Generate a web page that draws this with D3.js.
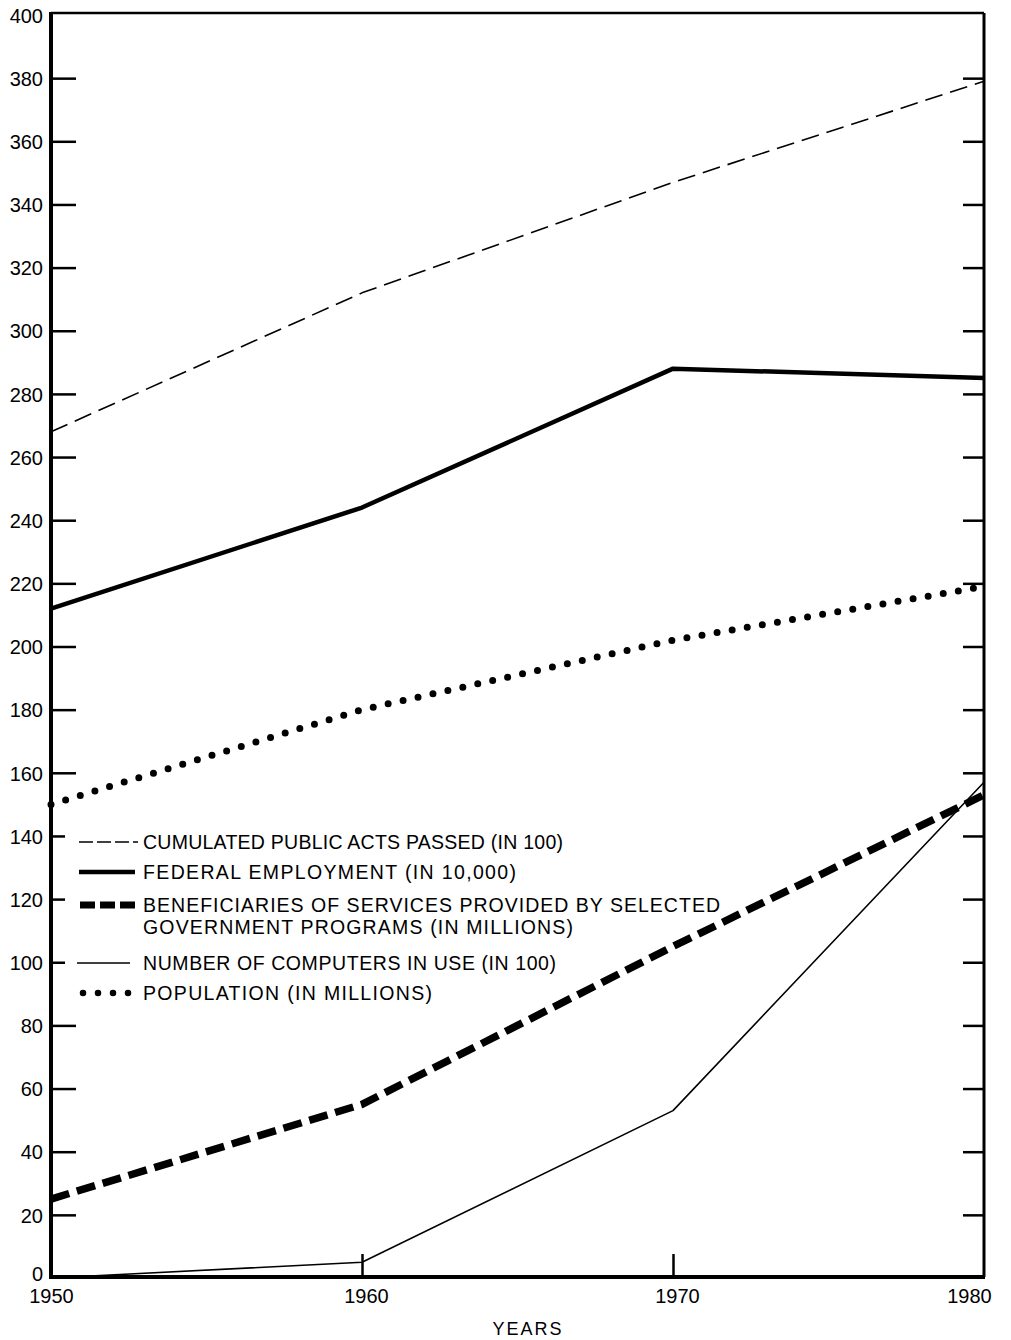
<!DOCTYPE html>
<html><head><meta charset="utf-8">
<script src="https://cdn.jsdelivr.net/npm/d3@7"></script>
<style>body{margin:0;background:#fff;} svg{display:block;}</style>
</head><body>
<svg id="c" width="1011" height="1340"></svg>
<script>
const years = [1950, 1960, 1970, 1980];
const publicActs = [268, 312, 347, 379];
const federalEmployment = [212, 244, 288, 285];
const population = [150, 180, 202, 219];
const beneficiaries = [25, 55, 105, 153];
const computers = [0, 5, 53, 157];
const yTicks = d3.range(0, 401, 20);
const xTicks = [1950, 1960, 1970, 1980];
const legendLabels = [
  ["CUMULATED PUBLIC ACTS PASSED (IN 100)"],
  ["FEDERAL EMPLOYMENT (IN 10,000)"],
  ["BENEFICIARIES OF SERVICES PROVIDED BY SELECTED", "GOVERNMENT PROGRAMS (IN MILLIONS)"],
  ["NUMBER OF COMPUTERS IN USE (IN 100)"],
  ["POPULATION (IN MILLIONS)"]
];

const L = 51, R = 984, T = 13, B = 1277;
const svg = d3.select("#c");
const x = d3.scaleLinear().domain([1950, 1980]).range([L, R]);
const y = d3.scaleLinear().domain([0, 400]).range([1278, 15]);
const font = "'Liberation Sans', Arial, sans-serif";

const styles = [
  {w: 1.6, dash: "18 8", cap: "butt"},
  {w: 4.5, dash: null, cap: "butt"},
  {w: 7.5, dash: "19 8", cap: "butt"},
  {w: 1.6, dash: null, cap: "butt"},
  {w: 7, dash: "0 15.3", cap: "round"}
];
const seriesVals = [publicActs, federalEmployment, beneficiaries, computers, population];

// frame
svg.append("line").attr("x1", L).attr("x2", R).attr("y1", T).attr("y2", T).attr("stroke", "#000").attr("stroke-width", 2.5);
svg.append("line").attr("x1", R).attr("x2", R).attr("y1", T).attr("y2", B).attr("stroke", "#000").attr("stroke-width", 3);

// left axis ticks (shorter where the legend sits)
const shortTicks = [100, 120, 140];
const yl = svg.append("g").attr("transform", `translate(${L},0)`)
  .call(d3.axisRight(y).tickValues(yTicks.filter(d => d > 0 && d < 400)).tickSize(25).tickFormat(""));
yl.select(".domain").remove();
yl.selectAll(".tick line").attr("stroke-width", 2.5).attr("x2", d => shortTicks.includes(d) ? 14 : 25);
const ylab = svg.append("g").attr("transform", `translate(43,0)`)
  .call(d3.axisLeft(y).tickValues(yTicks).tickSize(0).tickPadding(0));
ylab.select(".domain").remove();
ylab.selectAll("text").attr("font-size", 20).attr("font-family", font).attr("fill", "#000").attr("dy", "0.36em")
  .attr("y", d => d === 0 ? -5 : 0);
// right axis ticks
const yr = svg.append("g").attr("transform", `translate(${R},0)`)
  .call(d3.axisLeft(y).tickValues(yTicks.filter(d => d > 0 && d < 400)).tickSize(21).tickFormat(""));
yr.select(".domain").remove();
yr.selectAll(".tick line").attr("stroke-width", 2.5);

// bottom axis
const xa = svg.append("g").attr("transform", `translate(0,${B})`)
  .call(d3.axisTop(x).tickValues([1960, 1970]).tickSize(23).tickFormat(""));
xa.select(".domain").remove();
xa.selectAll(".tick line").attr("stroke-width", 2.5);
const xl = svg.append("g").attr("transform", `translate(0,${B})`)
  .call(d3.axisBottom(x).tickValues(xTicks).tickSize(0).tickPadding(12).tickFormat(d3.format("d")));
xl.select(".domain").remove();
xl.selectAll("text").attr("font-size", 20).attr("font-family", font).attr("fill", "#000")
  .attr("text-anchor", "middle")
  .attr("dx", (d) => d === 1950 ? 0 : d === 1980 ? -15 : 4);

svg.append("text").attr("x", 528).attr("y", 1335).attr("text-anchor", "middle")
  .attr("font-family", font).attr("font-size", 18).attr("letter-spacing", 2).text("YEARS");

// series
const line = d3.line().x((d, i) => x(years[i])).y(d => y(d));
seriesVals.forEach((vals, i) => {
  const s = styles[i];
  const p = svg.append("path").datum(vals).attr("d", line).attr("fill", "none")
    .attr("stroke", "#000").attr("stroke-width", s.w).attr("stroke-linecap", s.cap).attr("stroke-linejoin", "round");
  if (s.dash) p.attr("stroke-dasharray", s.dash);
});

// axes lines on top
svg.append("line").attr("x1", L).attr("x2", L).attr("y1", T - 1).attr("y2", B + 2).attr("stroke", "#000").attr("stroke-width", 4);
svg.append("line").attr("x1", L - 2).attr("x2", R + 1).attr("y1", B).attr("y2", B).attr("stroke", "#000").attr("stroke-width", 4);

// legend
const legRows = [842, 872, 905, 963, 993];
const legLen = [[420], [373], [577, 430], [413], [289]];
const legStyles = [
  {x1: 79, x2: 138, w: 1.6, dash: "14 4"},
  {x1: 79, x2: 135, w: 4.5, dash: null},
  {x1: 80, x2: 135, w: 7, dash: "15 5"},
  {x1: 77, x2: 130, w: 1.6, dash: null},
  {x1: 83, x2: 129, w: 6.5, dash: "0 15", cap: "round"}
];
legendLabels.forEach((lab, i) => {
  const yy = legRows[i];
  const s = legStyles[i];
  const ln = svg.append("line").attr("x1", s.x1).attr("x2", s.x2).attr("y1", yy).attr("y2", yy)
    .attr("stroke", "#000").attr("stroke-width", s.w).attr("stroke-linecap", s.cap || "butt");
  if (s.dash) ln.attr("stroke-dasharray", s.dash);
  lab.forEach((t, j) => {
    svg.append("text").attr("x", 143).attr("y", yy + j * 22).attr("dy", "0.36em")
      .attr("font-family", font).attr("font-size", 19.5)
      .attr("textLength", legLen[i][j]).attr("lengthAdjust", "spacing")
      .attr("fill", "#000").text(t);
  });
});
</script>
</body></html>
